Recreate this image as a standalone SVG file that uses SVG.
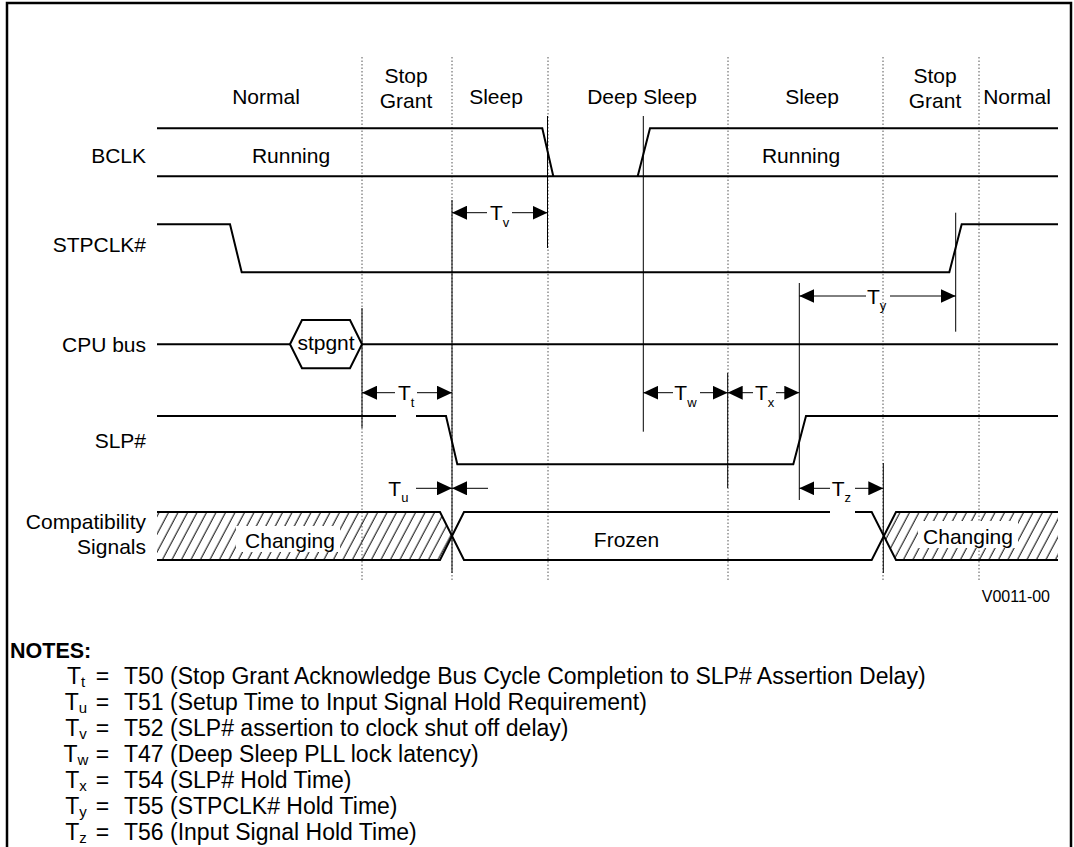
<svg xmlns="http://www.w3.org/2000/svg" width="1074" height="847" viewBox="0 0 1074 847">
<defs>
<style>
text { font-family: "Liberation Sans", Arial, Helvetica, sans-serif; fill:#000; }
.lbl { font-size:21px; }
.mid { text-anchor:middle; }
.end { text-anchor:end; }
.sub { font-size:13px; }
.sig { fill:none; stroke:#000; stroke-width:2; stroke-linejoin:miter; }
.dot { stroke:#555; stroke-width:1; stroke-dasharray:1.5 2; }
.ref { stroke:#000; stroke-width:1; }
.arr { stroke:#000; stroke-width:1; marker-end:url(#ah); }
.note { font-size:23px; }
.nsub { font-size:15px; }
.bg { fill:#fff; stroke:none; }
</style>
<marker id="ah" markerUnits="userSpaceOnUse" markerWidth="15" markerHeight="14" refX="15" refY="7" orient="auto"><path d="M0,0 L15,7 L0,14 z" fill="#000"/></marker>
<pattern id="hatch" patternUnits="userSpaceOnUse" width="9.5" height="48" patternTransform="skewX(-28)"><line x1="4" y1="-2" x2="4" y2="50" stroke="#000" stroke-width="1.1"/></pattern>
</defs>
<rect x="0" y="0" width="1074" height="847" fill="#fff"/>
<rect x="7" y="3" width="1064" height="900" fill="none" stroke="#000" stroke-width="2.5"/>

<g id="states">
<text class="lbl mid" x="266" y="104">Normal</text>
<text class="lbl mid" x="406" y="83">Stop</text>
<text class="lbl mid" x="406" y="108">Grant</text>
<text class="lbl mid" x="496" y="104">Sleep</text>
<text class="lbl mid" x="642" y="104">Deep Sleep</text>
<text class="lbl mid" x="812" y="104">Sleep</text>
<text class="lbl mid" x="935" y="83">Stop</text>
<text class="lbl mid" x="935" y="108">Grant</text>
<text class="lbl mid" x="1017" y="104">Normal</text>
</g>

<g id="grid">
<line class="dot" x1="362" y1="57" x2="362" y2="582"/>
<line class="dot" x1="452" y1="57" x2="452" y2="582"/>
<line class="dot" x1="548" y1="57" x2="548" y2="582"/>
<line class="dot" x1="728" y1="57" x2="728" y2="582"/>
<line class="dot" x1="883" y1="57" x2="883" y2="582"/>
<line class="dot" x1="979" y1="57" x2="979" y2="582"/>
</g>

<g id="bclk">
<text class="lbl end" x="146" y="162.5">BCLK</text>
<polyline class="sig" points="157,128.3 542.3,128.3 553.3,176.3"/>
<polyline class="sig" points="637.7,176.3 650,128.3 1058,128.3"/>
<line class="sig" x1="157" y1="176.3" x2="1058" y2="176.3"/>
<text class="lbl mid" x="291" y="163">Running</text>
<text class="lbl mid" x="801" y="163">Running</text>
</g>

<g id="stpclk">
<text class="lbl end" x="146" y="251.7">STPCLK#</text>
<polyline class="sig" points="157,224.3 230,224.3 241.7,272.3 949.3,272.3 961.7,224.3 1058,224.3"/>
</g>

<g id="cpubus">
<text class="lbl end" x="146" y="351.7">CPU bus</text>
<line class="sig" x1="157" y1="344.3" x2="290" y2="344.3"/>
<polygon class="sig" points="290,344.3 302,320 350,320 362,344.3 350,368.3 302,368.3"/>
<line class="sig" x1="362" y1="344.3" x2="1058" y2="344.3"/>
<text class="lbl mid" x="326" y="350">stpgnt</text>
</g>

<g id="slp">
<text class="lbl end" x="146" y="448.3">SLP#</text>
<polyline class="sig" points="157,416 446,416 457.3,464.3 793.3,464.3 806,416 1058,416"/>
</g>

<g id="compat">
<text class="lbl end" x="146" y="529">Compatibility</text>
<text class="lbl end" x="146" y="554">Signals</text>
<polygon points="157,512 440,512 452,536 440,560 157,560" fill="url(#hatch)"/>
<polygon points="883.8,536 896,512 1058,512 1058,560 896,560" fill="url(#hatch)"/>
<rect class="bg" x="236" y="526" width="104" height="26"/>
<rect class="bg" x="918" y="521" width="100" height="27"/>
<polyline class="sig" points="157,512 440,512 464,560 871.7,560 896,512 1058,512"/>
<polyline class="sig" points="157,560 440,560 464,512 871.7,512 896,560 1058,560"/>
<text class="lbl mid" x="290" y="548">Changing</text>
<text class="lbl mid" x="626.5" y="547">Frozen</text>
<text class="lbl mid" x="968" y="544">Changing</text>
</g>

<g id="connectors">
<line class="ref" x1="362" y1="308" x2="362" y2="428"/>
<line class="ref" x1="452" y1="200" x2="452" y2="573"/>
<line class="ref" x1="547.5" y1="116" x2="547.5" y2="248"/>
<line class="ref" x1="643.3" y1="116" x2="643.3" y2="431.7"/>
<line class="ref" x1="727.7" y1="373" x2="727.7" y2="488"/>
<line class="ref" x1="799.3" y1="283" x2="799.3" y2="500"/>
<line class="ref" x1="955.7" y1="212.7" x2="955.7" y2="331.7"/>
<line class="ref" x1="883.3" y1="463" x2="883.3" y2="573"/>

<line class="arr" x1="487" y1="212.7" x2="452" y2="212.7"/>
<line class="arr" x1="512" y1="212.7" x2="547.5" y2="212.7"/>
<line class="arr" x1="866" y1="296" x2="799.3" y2="296"/>
<line class="arr" x1="890" y1="296" x2="955.7" y2="296"/>
<line class="arr" x1="395" y1="392.7" x2="362" y2="392.7"/>
<line class="arr" x1="417" y1="392.7" x2="452" y2="392.7"/>
<line class="arr" x1="673" y1="392.7" x2="643.3" y2="392.7"/>
<line class="arr" x1="700" y1="392.7" x2="727.7" y2="392.7"/>
<line class="arr" x1="753" y1="392.7" x2="727.7" y2="392.7"/>
<line class="arr" x1="776" y1="392.7" x2="799.3" y2="392.7"/>
<line class="arr" x1="416" y1="488.3" x2="452" y2="488.3"/>
<line class="arr" x1="488" y1="488.3" x2="452" y2="488.3"/>
<line class="arr" x1="830" y1="488.3" x2="799.3" y2="488.3"/>
<line class="arr" x1="855" y1="488.3" x2="883.3" y2="488.3"/>
</g>

<g id="timing-labels">
<text class="lbl" x="490" y="220.2">T<tspan class="sub" dy="6.5">v</tspan></text>
<text class="lbl" x="867" y="303.5">T<tspan class="sub" dy="6.5">y</tspan></text>
<rect class="bg" x="396" y="412" width="20" height="8"/>
<text class="lbl" x="398" y="400.2">T<tspan class="sub" dy="6.5">t</tspan></text>
<text class="lbl" x="674.3" y="400.2">T<tspan class="sub" dy="6.5">w</tspan></text>
<text class="lbl" x="755" y="400.2">T<tspan class="sub" dy="6.5">x</tspan></text>
<text class="lbl" x="388.3" y="495.8">T<tspan class="sub" dy="6.5">u</tspan></text>
<rect class="bg" x="830" y="508" width="25" height="8"/>
<text class="lbl" x="831.7" y="495.8">T<tspan class="sub" dy="6.5">z</tspan></text>
</g>

<text x="1050" y="601.7" class="end" style="font-size:16px">V0011-00</text>

<g id="notes">
<text x="10" y="657.5" style="font-size:21.5px;font-weight:bold">NOTES:</text>
<g class="note">
<text class="mid" x="76" y="684">T<tspan class="nsub" dy="3">t</tspan></text>
<text class="mid" x="102.5" y="684">=</text>
<text x="124" y="684">T50 (Stop Grant Acknowledge Bus Cycle Completion to SLP# Assertion Delay)</text>
<text class="mid" x="76" y="710">T<tspan class="nsub" dy="3">u</tspan></text>
<text class="mid" x="102.5" y="710">=</text>
<text x="124" y="710">T51 (Setup Time to Input Signal Hold Requirement)</text>
<text class="mid" x="76" y="736">T<tspan class="nsub" dy="3">v</tspan></text>
<text class="mid" x="102.5" y="736">=</text>
<text x="124" y="736">T52 (SLP# assertion to clock shut off delay)</text>
<text class="mid" x="76" y="762">T<tspan class="nsub" dy="3">w</tspan></text>
<text class="mid" x="102.5" y="762">=</text>
<text x="124" y="762">T47 (Deep Sleep PLL lock latency)</text>
<text class="mid" x="76" y="788">T<tspan class="nsub" dy="3">x</tspan></text>
<text class="mid" x="102.5" y="788">=</text>
<text x="124" y="788">T54 (SLP# Hold Time)</text>
<text class="mid" x="76" y="814">T<tspan class="nsub" dy="3">y</tspan></text>
<text class="mid" x="102.5" y="814">=</text>
<text x="124" y="814">T55 (STPCLK# Hold Time)</text>
<text class="mid" x="76" y="840">T<tspan class="nsub" dy="3">z</tspan></text>
<text class="mid" x="102.5" y="840">=</text>
<text x="124" y="840">T56 (Input Signal Hold Time)</text>
</g>
</g>
</svg>
